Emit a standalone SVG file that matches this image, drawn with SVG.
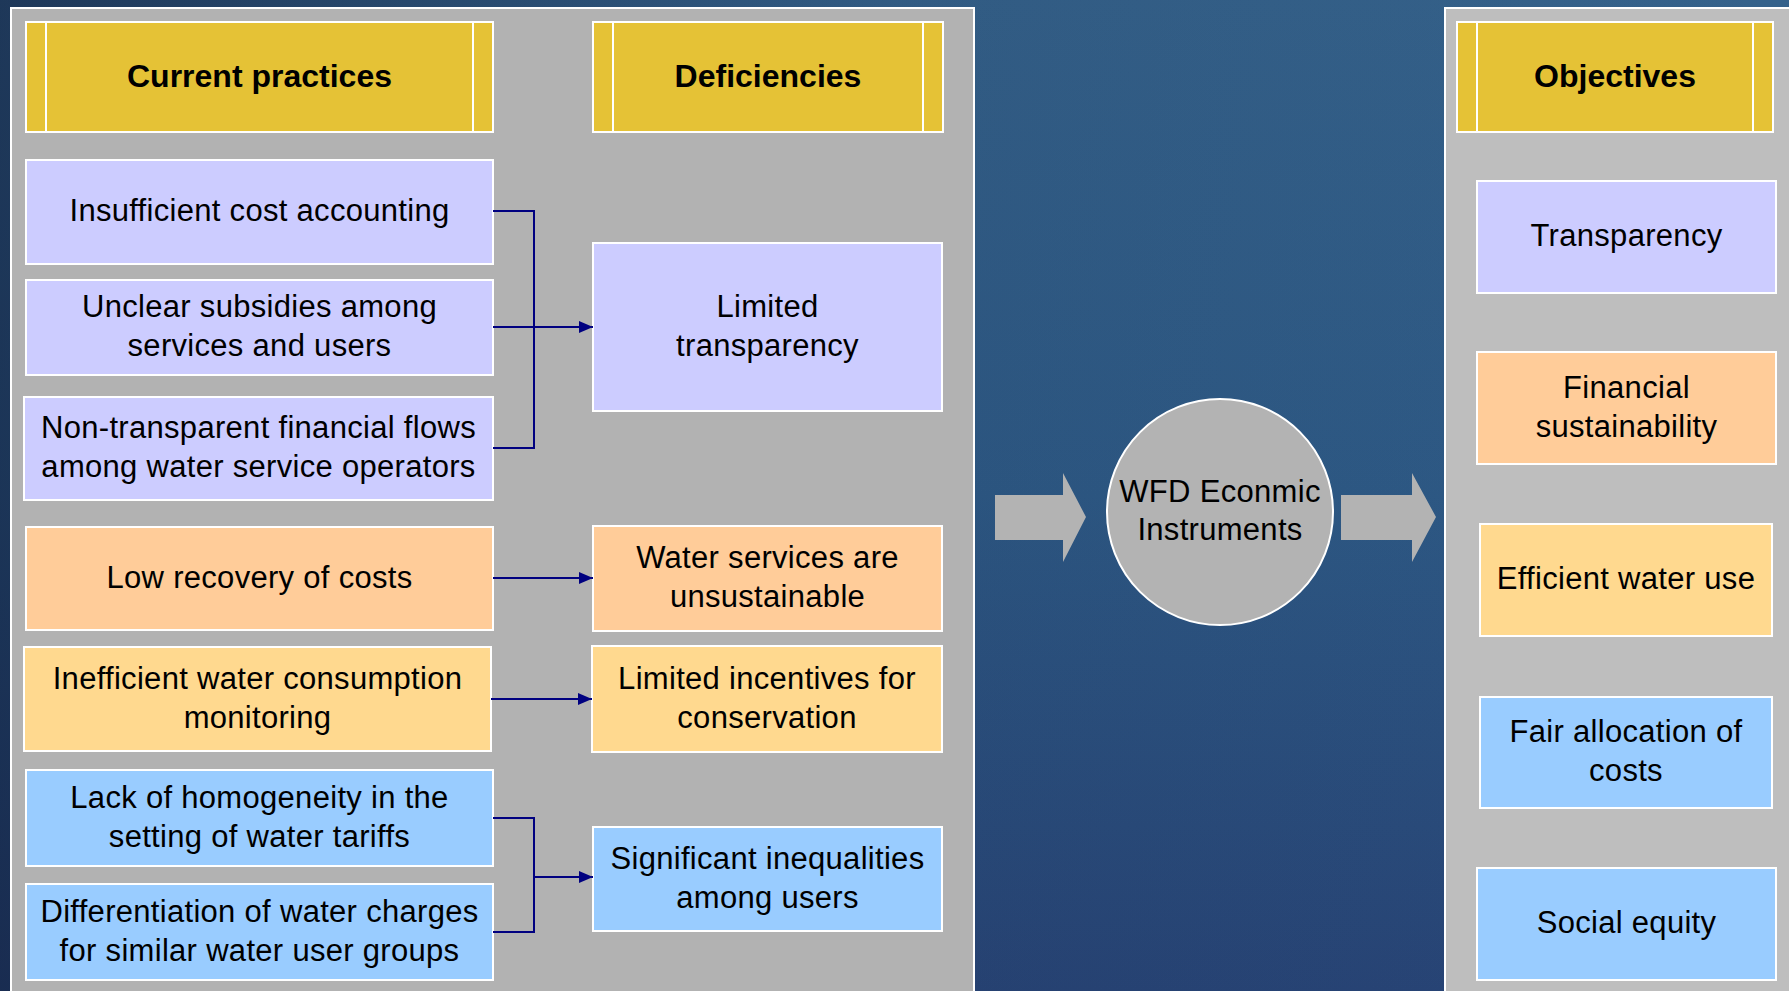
<svg xmlns="http://www.w3.org/2000/svg" width="1789" height="991" viewBox="0 0 1789 991">
  <defs>
    <linearGradient id="bgV" x1="0" y1="0" x2="0" y2="1">
      <stop offset="0" stop-color="#35628b"/>
      <stop offset="0.5" stop-color="#2e5a86"/>
      <stop offset="1" stop-color="#284577"/>
    </linearGradient>
    <linearGradient id="bgH" x1="0" y1="0" x2="1" y2="0">
      <stop offset="0" stop-color="#0f1c38" stop-opacity="0.6"/>
      <stop offset="0.5" stop-color="#0f1c38" stop-opacity="0.1"/>
      <stop offset="1" stop-color="#0f1c38" stop-opacity="0"/>
    </linearGradient>
    <marker id="arr" markerUnits="userSpaceOnUse" markerWidth="14" markerHeight="12" refX="14" refY="6" orient="auto">
      <path d="M0,0 L14,6 L0,12 z" fill="#000080"/>
    </marker>
  </defs>
  <style>
    .panelL { fill: #b2b2b2; stroke: #ffffff; stroke-width: 2; }
    .panelR { fill: #bebebe; stroke: #ffffff; stroke-width: 2; }
    .hdr { fill: #e5c236; stroke: #ffffff; stroke-width: 2; }
    .hline { stroke: #ffffff; stroke-width: 2; }
    .lav { fill: #ccccff; stroke: #ffffff; stroke-width: 2; }
    .peach { fill: #ffcc99; stroke: #ffffff; stroke-width: 2; }
    .yel { fill: #ffd98f; stroke: #ffffff; stroke-width: 2; }
    .blue { fill: #99ccff; stroke: #ffffff; stroke-width: 2; }
    .ht { font-family: "Liberation Sans", Arial, sans-serif; font-weight: bold; font-size: 32px; fill: #000000; text-anchor: middle; }
    .t { font-family: "Liberation Sans", Arial, sans-serif; font-size: 31px; letter-spacing: 0.3px; fill: #000000; text-anchor: middle; }
    .con { fill: none; stroke: #000080; stroke-width: 2; }
    .big { fill: #b3b3b3; }
  </style>

  <rect x="0" y="0" width="1789" height="991" fill="url(#bgV)"/>
  <rect x="0" y="0" width="1789" height="991" fill="url(#bgH)"/>

  <g id="panel-left">
    <rect class="panelL" x="11" y="8" width="963" height="990"/>
  </g>
  <g id="panel-right">
    <rect class="panelR" x="1445" y="8" width="350" height="990"/>
  </g>

  <g id="hdr-current">
    <rect class="hdr" x="26" y="22" width="467" height="110"/>
    <line class="hline" x1="46" y1="22" x2="46" y2="132"/>
    <line class="hline" x1="473" y1="22" x2="473" y2="132"/>
    <text class="ht" x="259.5" y="87">Current practices</text>
  </g>
  <g id="hdr-deficiencies">
    <rect class="hdr" x="593" y="22" width="350" height="110"/>
    <line class="hline" x1="613" y1="22" x2="613" y2="132"/>
    <line class="hline" x1="923" y1="22" x2="923" y2="132"/>
    <text class="ht" x="768" y="87">Deficiencies</text>
  </g>
  <g id="hdr-objectives">
    <rect class="hdr" x="1457" y="22" width="316" height="110"/>
    <line class="hline" x1="1477" y1="22" x2="1477" y2="132"/>
    <line class="hline" x1="1753" y1="22" x2="1753" y2="132"/>
    <text class="ht" x="1615" y="87">Objectives</text>
  </g>

  <g id="cp-insufficient">
    <rect class="lav" x="26" y="160" width="467" height="104"/>
    <text class="t" x="259.5" y="221">Insufficient cost accounting</text>
  </g>
  <g id="cp-unclear">
    <rect class="lav" x="26" y="280" width="467" height="95"/>
    <text class="t" x="259.5" y="317">Unclear subsidies among</text>
    <text class="t" x="259.5" y="356">services and users</text>
  </g>
  <g id="cp-nontransparent">
    <rect class="lav" x="24" y="397" width="469" height="103"/>
    <text class="t" x="258.5" y="438">Non-transparent financial flows</text>
    <text class="t" x="258.5" y="477">among water service operators</text>
  </g>
  <g id="cp-lowrecovery">
    <rect class="peach" x="26" y="527" width="467" height="103"/>
    <text class="t" x="259.5" y="588">Low recovery of costs</text>
  </g>
  <g id="cp-inefficient">
    <rect class="yel" x="24" y="647" width="467" height="104"/>
    <text class="t" x="257.5" y="688.5">Inefficient water consumption</text>
    <text class="t" x="257.5" y="727.5">monitoring</text>
  </g>
  <g id="cp-lack">
    <rect class="blue" x="26" y="770" width="467" height="96"/>
    <text class="t" x="259.5" y="807.5">Lack of homogeneity in the</text>
    <text class="t" x="259.5" y="846.5">setting of water tariffs</text>
  </g>
  <g id="cp-differentiation">
    <rect class="blue" x="26" y="884" width="467" height="96"/>
    <text class="t" x="259.5" y="921.5">Differentiation of water charges</text>
    <text class="t" x="259.5" y="960.5">for similar water user groups</text>
  </g>

  <g id="def-transparency">
    <rect class="lav" x="593" y="243" width="349" height="168"/>
    <text class="t" x="767.5" y="316.5">Limited</text>
    <text class="t" x="767.5" y="355.5">transparency</text>
  </g>
  <g id="def-unsustainable">
    <rect class="peach" x="593" y="526" width="349" height="105"/>
    <text class="t" x="767.5" y="568">Water services are</text>
    <text class="t" x="767.5" y="607">unsustainable</text>
  </g>
  <g id="def-incentives">
    <rect class="yel" x="592" y="646" width="350" height="106"/>
    <text class="t" x="767" y="688.5">Limited incentives for</text>
    <text class="t" x="767" y="727.5">conservation</text>
  </g>
  <g id="def-inequalities">
    <rect class="blue" x="593" y="827" width="349" height="104"/>
    <text class="t" x="767.5" y="868.5">Significant inequalities</text>
    <text class="t" x="767.5" y="907.5">among users</text>
  </g>

  <g id="big-arrows">
    <path class="big" d="M995,495 H1063 V473 L1086,517 L1063,562 V540 H995 z"/>
    <path class="big" d="M1341,495 H1412 V473 L1436,517 L1412,562 V540 H1341 z"/>
  </g>

  <g id="wfd">
    <circle cx="1220" cy="512" r="113" fill="#b3b3b3" stroke="#ffffff" stroke-width="2"/>
    <text class="t" x="1220" y="502">WFD Econmic</text>
    <text class="t" x="1220" y="540">Instruments</text>
  </g>

  <g id="obj-transparency">
    <rect class="lav" x="1477" y="181" width="299" height="112"/>
    <text class="t" x="1626.5" y="246">Transparency</text>
  </g>
  <g id="obj-financial">
    <rect class="peach" x="1477" y="352" width="299" height="112"/>
    <text class="t" x="1626.5" y="397.5">Financial</text>
    <text class="t" x="1626.5" y="436.5">sustainability</text>
  </g>
  <g id="obj-efficient">
    <rect class="yel" x="1480" y="524" width="292" height="112"/>
    <text class="t" x="1626" y="589">Efficient water use</text>
  </g>
  <g id="obj-fair">
    <rect class="blue" x="1480" y="697" width="292" height="111"/>
    <text class="t" x="1626" y="742">Fair allocation of</text>
    <text class="t" x="1626" y="781">costs</text>
  </g>
  <g id="obj-equity">
    <rect class="blue" x="1477" y="868" width="299" height="112"/>
    <text class="t" x="1626.5" y="933">Social equity</text>
  </g>

  <g id="connectors">
    <path class="con" d="M493,211 H534 V448 H493"/>
    <path class="con" d="M493,327 H593" marker-end="url(#arr)"/>
    <path class="con" d="M493,578 H593" marker-end="url(#arr)"/>
    <path class="con" d="M491,699 H592" marker-end="url(#arr)"/>
    <path class="con" d="M493,818 H534 V932 H493"/>
    <path class="con" d="M534,877 H593" marker-end="url(#arr)"/>
  </g>
</svg>
